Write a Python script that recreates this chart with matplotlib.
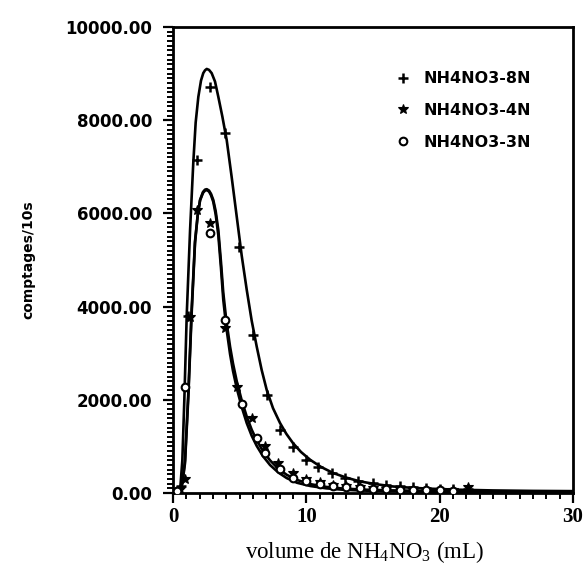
import matplotlib
matplotlib.use("Agg")
import matplotlib.pyplot as plt
from matplotlib.ticker import MultipleLocator, FormatStrFormatter

plt.rcParams['mathtext.fontset'] = 'custom'
plt.rcParams['mathtext.rm'] = 'Liberation Serif'

# ---- data ----
# NH4NO3-8N measured points (+)
x_8n = [0.3, 0.6, 1.13, 1.78, 2.78, 3.9, 4.95, 6.0, 7.03, 8.03, 9.0, 10.0, 10.9, 11.9, 12.9, 13.9,
        15.0, 16.0, 17.0, 18.0, 19.0, 20.0, 21.0, 22.1]
y_8n = [40, 150, 3800, 7150, 8720, 7730, 5280, 3390, 2100, 1350, 990, 710, 560, 430, 320, 260,
        210, 170, 140, 120, 100, 90, 80, 80]
# NH4NO3-4N measured points (filled)
x_4n = [0.5, 0.9, 1.28, 1.78, 2.78, 3.9, 4.78, 5.9, 6.9, 7.9, 9.0, 10.0, 11.0, 12.0, 13.0, 14.0,
        15.0, 16.0, 17.0, 18.0, 19.0, 20.0, 21.0, 22.1]
y_4n = [80, 300, 3780, 6070, 5790, 3540, 2280, 1610, 1000, 640, 420, 300, 230, 180, 150, 120,
        100, 90, 80, 70, 65, 60, 60, 120]
# NH4NO3-3N measured points (open)
x_3n = [0.3, 0.9, 2.78, 3.9, 5.2, 6.28, 6.9, 8.0, 9.0, 10.0, 11.0, 12.0, 13.0, 14.0, 15.0, 16.0,
        17.0, 18.0, 19.0, 20.0, 21.0]
y_3n = [50, 2280, 5580, 3710, 1900, 1180, 860, 520, 320, 250, 200, 160, 130, 110, 90, 80,
        70, 65, 60, 55, 50]

# fitted curves
cx_8n = [0, 0.4, 0.55, 0.7, 0.85, 1.03, 1.28, 1.52, 1.7, 1.9, 2.1, 2.27, 2.4, 2.53, 2.7, 2.9, 3.15,
         3.4, 3.7, 4.03, 4.4, 4.78, 5.15, 5.53, 5.9, 6.28, 6.65, 7.03, 7.5, 8.03, 8.5, 9.0, 9.6, 10.3,
         11.1, 12.0, 13.0, 14.0, 15.2, 16.5, 18.0, 19.5, 21.5, 24.0, 27.0, 30.0]
cy_8n = [0, 20, 120, 700, 2000, 3820, 5640, 7080, 7950, 8500, 8850, 9010, 9070, 9100, 9080, 9010, 8830,
         8500, 8080, 7570, 6780, 5930, 5100, 4360, 3700, 3140, 2640, 2210, 1820, 1500, 1270, 1070, 880, 710,
         560, 430, 330, 250, 190, 140, 110, 90, 70, 55, 45, 40]

cx_4n = [0, 0.5, 0.7, 0.9, 1.15, 1.4, 1.65, 1.85, 2.03, 2.25, 2.4, 2.53, 2.7, 2.85, 3.02, 3.2, 3.4,
         3.6, 3.77, 4.0, 4.28, 4.5, 4.78, 5.15, 5.53, 5.9, 6.28, 6.75, 7.28, 7.9, 8.53, 9.3, 10.3,
         11.5, 12.75, 14.5, 16.5, 19.0, 22.0, 26.0, 30.0]
cy_4n = [0, 30, 200, 640, 2070, 3860, 5360, 5950, 6290, 6460, 6510, 6520, 6490, 6420, 6290, 6050, 5640,
         4950, 4300, 3700, 3140, 2780, 2400, 1990, 1640, 1360, 1130, 900, 700, 520, 390, 280, 190,
         130, 95, 70, 55, 45, 35, 25, 20]

cx_3n = [0, 0.5, 0.7, 0.9, 1.15, 1.4, 1.65, 1.85, 2.03, 2.25, 2.4, 2.53, 2.7, 2.85, 3.02, 3.2, 3.4,
         3.6, 3.77, 4.0, 4.28, 4.5, 4.78, 5.15, 5.53, 5.9, 6.28, 6.75, 7.28, 7.9, 8.53, 9.3, 10.3,
         11.5, 12.75, 14.5, 16.5, 19.0, 22.0, 26.0, 30.0]
cy_3n = [0, 30, 220, 700, 2150, 3950, 5400, 5960, 6280, 6440, 6490, 6500, 6470, 6390, 6250, 5980, 5530,
         4820, 4150, 3550, 2980, 2620, 2250, 1850, 1500, 1230, 1010, 790, 600, 440, 320, 220, 150,
         100, 70, 50, 40, 30, 25, 20, 15]

labels = ['NH4NO3-8N', 'NH4NO3-4N', 'NH4NO3-3N']
x_ticks = [0, 10, 20, 30]
y_ticks = [0, 2000, 4000, 6000, 8000, 10000]

# ---- figure ----
fig = plt.figure(figsize=(5.83, 5.65), dpi=100)
ax = fig.add_axes([173/583, 1-493/565, 400/583, 466/565])

ax.plot(cx_8n, cy_8n, color='black', lw=1.9, zorder=2)
ax.plot(cx_4n, cy_4n, color='black', lw=1.9, zorder=2)
ax.plot(cx_3n, cy_3n, color='black', lw=1.9, zorder=2)

ax.plot(x_8n, y_8n, linestyle='none', marker='+', ms=7, mew=1.8, color='black', label=labels[0], zorder=3)
ax.plot(x_4n, y_4n, linestyle='none', marker='*', ms=7, mew=0.8, color='black', label=labels[1], zorder=3)
ax.plot(x_3n, y_3n, linestyle='none', marker='o', ms=5.5, mew=1.5, mfc='white', mec='black',
        label=labels[2], zorder=3)

ax.set_xlim(0, 30)
ax.set_ylim(0, 10000)
ax.set_xticks(x_ticks)
ax.set_yticks(y_ticks)
ax.xaxis.set_minor_locator(MultipleLocator(1))
ax.yaxis.set_minor_locator(MultipleLocator(100))
ax.yaxis.set_major_formatter(FormatStrFormatter('%.2f'))

for s in ax.spines.values():
    s.set_linewidth(2)

ax.tick_params(axis='both', which='major', direction='out', length=7, width=1.6)
ax.tick_params(axis='both', which='minor', direction='out', length=4, width=1.4)
ax.tick_params(axis='y', which='major', pad=8)
ax.tick_params(axis='x', which='major', pad=3)

for lab in ax.get_yticklabels():
    lab.set_fontfamily('DejaVu Sans')
    lab.set_fontweight('bold')
    lab.set_fontsize(12)
for lab in ax.get_xticklabels():
    lab.set_fontfamily('Liberation Serif')
    lab.set_fontweight('bold')
    lab.set_fontsize(15)

xl = ax.set_xlabel(r'volume de NH$_4$NO$_3$ (mL)', fontfamily='Liberation Serif', fontsize=16.5, labelpad=9)
xl.set_x(0.48)
fig.text(28/583, 1-260/565, 'comptages/10s', rotation=90, ha='center', va='center',
         fontfamily='DejaVu Sans', fontweight='bold', fontsize=10)

leg = ax.legend(loc='upper left', bbox_to_anchor=(0.555, 0.905), frameon=False, numpoints=1,
                handlelength=1.0, handletextpad=0.8, labelspacing=1.05, borderpad=0, borderaxespad=0,
                prop={'family': 'DejaVu Sans', 'weight': 'bold', 'size': 11.5})

fig.savefig('out.png', dpi=100)
